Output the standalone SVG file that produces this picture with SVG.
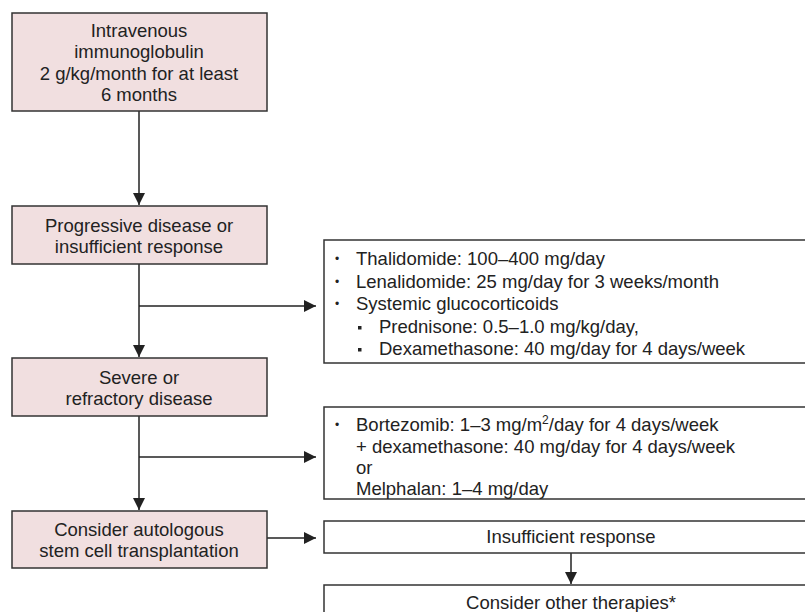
<svg xmlns="http://www.w3.org/2000/svg" width="805" height="612" viewBox="0 0 805 612">
<style>
text{font-family:"Liberation Sans",Arial,sans-serif;font-size:18.5px;fill:#222}
.c{text-anchor:middle}
.b{font-size:12px;text-anchor:middle}
.pink{fill:#f1dfe0;stroke:#333;stroke-width:1.5}
.white{fill:#fff;stroke:#333;stroke-width:1.5}
.ln{stroke:#222;stroke-width:1.5;fill:none}
</style>
<defs>
<marker id="ah" viewBox="0 0 12 12" refX="12" refY="6" markerWidth="12" markerHeight="12" markerUnits="userSpaceOnUse" orient="auto">
<path d="M0,0 L12,6 L0,12 Z" fill="#222"/>
</marker>
</defs>
<rect width="805" height="612" fill="#fff"/>
<g id="connectors">
<line class="ln" x1="139" y1="111" x2="139" y2="205" marker-end="url(#ah)"/>
<line class="ln" x1="139" y1="264" x2="139" y2="357" marker-end="url(#ah)"/>
<line class="ln" x1="139" y1="306" x2="316" y2="306" marker-end="url(#ah)"/>
<line class="ln" x1="139" y1="416" x2="139" y2="510" marker-end="url(#ah)"/>
<line class="ln" x1="139" y1="457" x2="316" y2="457" marker-end="url(#ah)"/>
<line class="ln" x1="267" y1="538" x2="316" y2="538" marker-end="url(#ah)"/>
<line class="ln" x1="571" y1="553" x2="571" y2="584" marker-end="url(#ah)"/>
</g>
<g id="ivig">
<rect class="pink" x="12" y="13" width="255" height="98"/>
<text class="c" x="139" y="37">Intravenous</text>
<text class="c" x="139" y="58">immunoglobulin</text>
<text class="c" x="139" y="80">2 g/kg/month for at least</text>
<text class="c" x="139" y="101">6 months</text>
</g>
<g id="progressive">
<rect class="pink" x="12" y="206" width="255" height="58"/>
<text class="c" x="139" y="232">Progressive disease or</text>
<text class="c" x="139" y="253">insufficient response</text>
</g>
<g id="severe">
<rect class="pink" x="12" y="358" width="255" height="58"/>
<text class="c" x="139" y="384">Severe or</text>
<text class="c" x="139" y="405">refractory disease</text>
</g>
<g id="asct">
<rect class="pink" x="12" y="511" width="255" height="57"/>
<text class="c" x="139" y="536">Consider autologous</text>
<text class="c" x="139" y="557">stem cell transplantation</text>
</g>
<g id="first-line">
<rect class="white" x="324" y="240" width="500" height="123"/>
<text class="b" x="337" y="263">•</text><text x="356" y="265">Thalidomide: 100–400 mg/day</text>
<text class="b" x="337" y="286">•</text><text x="356" y="288">Lenalidomide: 25 mg/day for 3 weeks/month</text>
<text class="b" x="337" y="308">•</text><text x="356" y="310">Systemic glucocorticoids</text>
<rect x="358" y="326" width="3.5" height="3.5" fill="#222"/><text x="379" y="333">Prednisone: 0.5–1.0 mg/kg/day,</text>
<rect x="358" y="348" width="3.5" height="3.5" fill="#222"/><text x="379" y="355">Dexamethasone: 40 mg/day for 4 days/week</text>
</g>
<g id="second-line">
<rect class="white" x="324" y="407" width="500" height="92"/>
<text class="b" x="337" y="429">•</text><text x="356" y="431">Bortezomib: 1–3 mg/m<tspan font-size="12" dy="-7">2</tspan><tspan dy="7">/day for 4 days/week</tspan></text>
<text x="356" y="453">+ dexamethasone: 40 mg/day for 4 days/week</text>
<text x="356" y="474">or</text>
<text x="356" y="495">Melphalan: 1–4 mg/day</text>
</g>
<g id="insufficient">
<rect class="white" x="324" y="521" width="500" height="32"/>
<text class="c" x="571" y="543">Insufficient response</text>
</g>
<g id="other">
<rect class="white" x="324" y="585" width="500" height="40"/>
<text class="c" x="571" y="609">Consider other therapies*</text>
</g>
</svg>
